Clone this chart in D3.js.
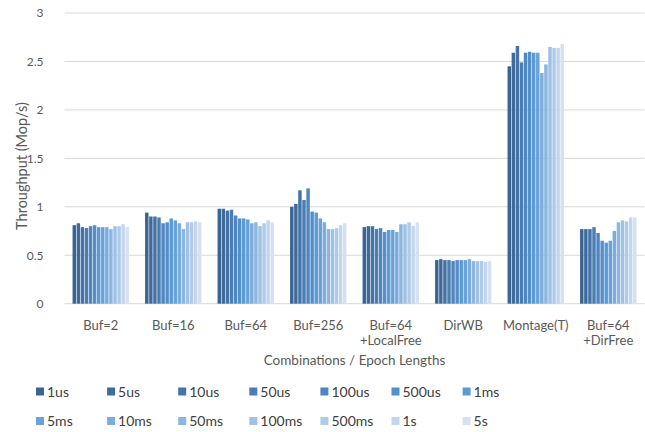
<!DOCTYPE html>
<html>
<head>
<meta charset="utf-8">
<script src="https://cdn.jsdelivr.net/npm/d3@7"></script>
<style>
  html, body { margin: 0; padding: 0; background: #fff; }
  svg text { font-family: Lato, "Open Sans", sans-serif; fill: #404040; }
</style>
</head>
<body>
<svg id="chart" width="645" height="432"></svg>
<script>
// Workload combinations (x categories); "\n" splits a label over two lines
const categories = ["Buf=2", "Buf=16", "Buf=64", "Buf=256", "Buf=64\n+LocalFree",
                    "DirWB", "Montage(T)", "Buf=64\n+DirFree"];

// Epoch lengths (one series each)
const epochs = ["1us", "5us", "10us", "50us", "100us", "500us", "1ms",
                "5ms", "10ms", "50ms", "100ms", "500ms", "1s", "5s"];

const seriesColors = ["#3b6591", "#3e6b9b", "#4473a6", "#497db3", "#4f86bf", "#548fca", "#5b9bd5",
                      "#69a2d8", "#7aacdc", "#8cb6df", "#9ec1e4", "#b0cbe8", "#c3d6ed", "#d5e1f2"];

// Throughput (Mop/s), one array per category, one value per epoch length
const bufTwo        = [0.81, 0.83, 0.79, 0.78, 0.80, 0.81, 0.79, 0.79, 0.79, 0.77, 0.80, 0.80, 0.82, 0.79];
const bufSixteen    = [0.94, 0.90, 0.90, 0.89, 0.83, 0.84, 0.88, 0.86, 0.83, 0.77, 0.84, 0.84, 0.85, 0.84];
const bufSixtyFour  = [0.98, 0.98, 0.96, 0.97, 0.91, 0.88, 0.88, 0.87, 0.83, 0.84, 0.80, 0.83, 0.86, 0.84];
const bufTwoFiftySix= [1.00, 1.03, 1.17, 1.07, 1.19, 0.95, 0.94, 0.88, 0.84, 0.77, 0.77, 0.78, 0.81, 0.83];
const localFree     = [0.79, 0.80, 0.80, 0.77, 0.78, 0.74, 0.76, 0.76, 0.74, 0.82, 0.82, 0.84, 0.80, 0.84];
const dirWB         = [0.45, 0.46, 0.45, 0.45, 0.44, 0.45, 0.45, 0.45, 0.46, 0.44, 0.44, 0.44, 0.43, 0.44];
const montage       = [2.45, 2.59, 2.66, 2.49, 2.59, 2.60, 2.59, 2.59, 2.38, 2.47, 2.65, 2.64, 2.64, 2.68];
const dirFree       = [0.77, 0.77, 0.77, 0.79, 0.73, 0.65, 0.63, 0.65, 0.75, 0.84, 0.86, 0.85, 0.89, 0.89];

const values = [bufTwo, bufSixteen, bufSixtyFour, bufTwoFiftySix, localFree, dirWB, montage, dirFree];

const yTicks = [0, 0.5, 1, 1.5, 2, 2.5, 3];
const yTickLabels = ["0", "0.5", "1", "1.5", "2", "2.5", "3"];

const svg = d3.select("#chart");
const plot = { left: 64.5, right: 644.5, top: 13, bottom: 303.7 };

const x0 = d3.scaleBand().domain(categories).range([plot.left, plot.right])
  .paddingInner(0.214).paddingOuter(0.107);
const x1 = d3.scaleBand().domain(epochs).range([0, x0.bandwidth()]);
const y = d3.scaleLinear().domain([0, 3]).range([plot.bottom, plot.top]);
const color = d3.scaleOrdinal().domain(epochs).range(seriesColors);

// horizontal gridlines
svg.append("g").selectAll("line").data(yTicks).join("line")
  .attr("x1", plot.left).attr("x2", plot.right)
  .attr("y1", d => y(d)).attr("y2", d => y(d))
  .attr("stroke", "#d9d9d9").attr("stroke-width", 1);

// y axis tick labels
const yAxis = d3.axisLeft(y).tickValues(yTicks).tickSize(0).tickPadding(0)
  .tickFormat((d, i) => yTickLabels[i]);
const yg = svg.append("g").attr("transform", `translate(${plot.left - 21},0)`).call(yAxis);
yg.select(".domain").remove();
yg.selectAll("text").style("font-size", "12px").style("fill", "#595959");

// bars
const groups = svg.append("g").selectAll("g").data(categories).join("g")
  .attr("transform", d => `translate(${x0(d)},0)`);
groups.selectAll("rect")
  .data((c, ci) => epochs.map((e, ei) => ({ e, v: values[ci][ei] })))
  .join("rect")
  .attr("x", d => x1(d.e) + 0.3)
  .attr("width", x1.bandwidth() - 0.6)
  .attr("y", d => y(d.v))
  .attr("height", d => y(0) - y(d.v))
  .attr("fill", d => color(d.e));

// category labels
const catLabels = svg.append("g").selectAll("text").data(categories).join("text")
  .attr("x", d => x0(d) + x0.bandwidth() / 2)
  .attr("y", 329.5)
  .attr("text-anchor", "middle")
  .style("font-size", "13px").style("fill", "#595959");
catLabels.each(function(d) {
  const lines = d.split("\n");
  const t = d3.select(this);
  lines.forEach((ln, i) => {
    t.append("tspan").attr("x", x0(d) + x0.bandwidth() / 2)
      .attr("dy", i === 0 ? 0 : 15).text(ln);
  });
});

// axis titles
svg.append("text")
  .attr("x", (plot.left + plot.right) / 2 - 0)
  .attr("y", 365)
  .attr("text-anchor", "middle")
  .style("font-size", "13.5px").style("fill", "#595959")
  .text("Combinations / Epoch Lengths");

svg.append("text")
  .attr("transform", `translate(27,166) rotate(-90)`)
  .attr("text-anchor", "middle")
  .style("font-size", "14.5px").style("fill", "#595959")
  .text("Throughput (Mop/s)");

// legend: two rows of seven
const legend = svg.append("g").selectAll("g").data(epochs).join("g")
  .attr("transform", (d, i) => `translate(${36 + (i % 7) * 71.1},${i < 7 ? 392 : 421.5})`);
legend.append("rect")
  .attr("x", 0).attr("y", -4.5).attr("width", 8).attr("height", 8)
  .attr("fill", d => color(d));
legend.append("text")
  .attr("x", 11).attr("y", 0).attr("dy", "0.35em")
  .style("font-size", "14px").style("fill", "#404040")
  .text(d => d);
</script>
</body>
</html>
